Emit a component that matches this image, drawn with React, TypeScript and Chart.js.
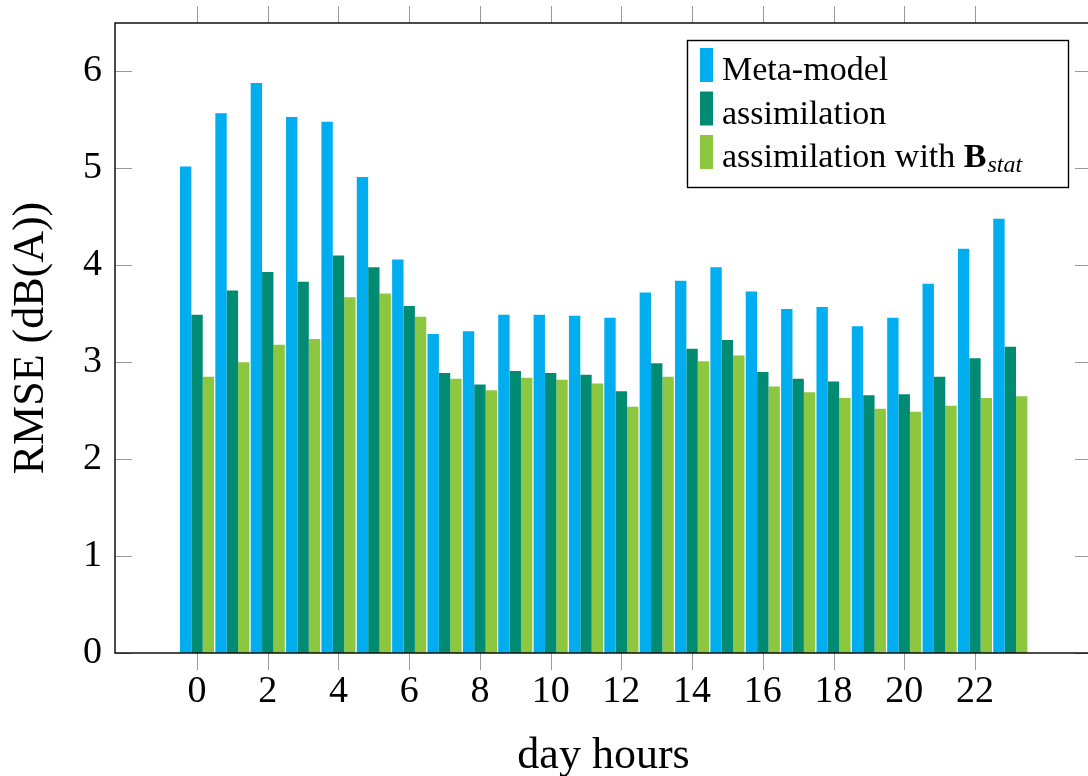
import React, { useEffect, useRef } from "react";
import { Chart, registerables } from "chart.js";

Chart.register(...registerables);

// Hours of the day (x positions of the bar groups)
const hours = [0, 1, 2, 3, 4, 5, 6, 7, 8, 9, 10, 11, 12, 13, 14, 15, 16, 17, 18, 19, 20, 21, 22, 23];

// RMSE per hour, dB(A)
const metaModel = [5.02, 5.57, 5.88, 5.53, 5.48, 4.91, 4.06, 3.29, 3.32, 3.49, 3.49, 3.48, 3.46, 3.72, 3.84, 3.98, 3.73, 3.55, 3.57, 3.37, 3.46, 3.81, 4.17, 4.48];
const assimilation = [3.49, 3.74, 3.93, 3.83, 4.1, 3.98, 3.58, 2.89, 2.77, 2.91, 2.89, 2.87, 2.7, 2.99, 3.14, 3.23, 2.9, 2.83, 2.8, 2.66, 2.67, 2.85, 3.04, 3.16];
const assimilationBstat = [2.85, 3.0, 3.18, 3.24, 3.67, 3.71, 3.47, 2.83, 2.71, 2.84, 2.82, 2.78, 2.54, 2.85, 3.01, 3.07, 2.75, 2.69, 2.63, 2.52, 2.49, 2.55, 2.63, 2.65];

// Axis ticks
const xTicks = [0, 2, 4, 6, 8, 10, 12, 14, 16, 18, 20, 22];
const yTicks = [0, 1, 2, 3, 4, 5, 6];

const seriesLabels = ["Meta-model", "assimilation", "assimilation with Bstat"];
const seriesColors = ["#00AEEF", "#008B72", "#8DC63F"];

// Legend text with math styling for the last entry
type Part = { text: string; style?: "bold" | "sub" };
const legendParts: Part[][] = [
  [{ text: "Meta-model" }],
  [{ text: "assimilation" }],
  [{ text: "assimilation with " }, { text: "B", style: "bold" }, { text: "stat", style: "sub" }],
];

const FONT = '"Liberation Serif", "DejaVu Serif", serif';

const frameAndTicks = {
  id: "frameAndTicks",
  afterDatasetsDraw(chart: any) {
    const { ctx, chartArea } = chart;
    const { left, right, top, bottom } = chartArea;
    const xs = chart.scales.x;
    const ys = chart.scales.y;
    const tl = 17;
    ctx.save();
    ctx.strokeStyle = "#9a9a9a";
    ctx.lineWidth = 1;
    ctx.beginPath();
    xTicks.forEach((v) => {
      const px = Math.round(xs.getPixelForValue(v)) + 0.5;
      ctx.moveTo(px, bottom);
      ctx.lineTo(px, bottom + tl);
      ctx.moveTo(px, top);
      ctx.lineTo(px, top - tl);
    });
    yTicks.forEach((v) => {
      const py = Math.round(ys.getPixelForValue(v)) + 0.5;
      ctx.moveTo(left, py);
      ctx.lineTo(left + tl, py);
      ctx.moveTo(right, py);
      ctx.lineTo(right - tl, py);
    });
    ctx.stroke();
    ctx.strokeStyle = "#000";
    ctx.lineWidth = 1.4;
    ctx.strokeRect(left, top, right - left, bottom - top);
    ctx.restore();
  },
};

const texLegend = {
  id: "texLegend",
  afterDraw(chart: any) {
    const { ctx } = chart;
    const box = { x: 687.5, y: 40.5, w: 381, h: 147 };
    ctx.save();
    ctx.fillStyle = "#fff";
    ctx.fillRect(box.x, box.y, box.w, box.h);
    ctx.strokeStyle = "#000";
    ctx.lineWidth = 1.4;
    ctx.strokeRect(box.x, box.y, box.w, box.h);
    const rowTop = [48, 91.5, 135];
    const baselines = [80, 123.5, 167];
    chart.data.datasets.forEach((ds: any, i: number) => {
      ctx.fillStyle = ds.backgroundColor;
      ctx.fillRect(700, rowTop[i], 13, 34);
      let x = 722;
      ctx.fillStyle = "#000";
      ctx.textBaseline = "alphabetic";
      ctx.textAlign = "left";
      legendParts[i].forEach((p) => {
        let y = baselines[i];
        if (p.style === "bold") ctx.font = `bold 34px ${FONT}`;
        else if (p.style === "sub") {
          ctx.font = `italic 24px ${FONT}`;
          y += 5;
        } else ctx.font = `34px ${FONT}`;
        ctx.fillText(p.text, x, y);
        x += ctx.measureText(p.text).width + (p.style === "bold" ? 1 : 0);
      });
    });
    ctx.restore();
  },
};

export default function App() {
  const canvasRef = useRef<HTMLCanvasElement | null>(null);

  useEffect(() => {
    if (!canvasRef.current) return;
    const series = [metaModel, assimilation, assimilationBstat];
    const chart = new Chart(canvasRef.current, {
      type: "bar",
      data: {
        datasets: series.map((vals, i) => ({
          label: seriesLabels[i],
          data: hours.map((h, j) => ({ x: h, y: vals[j] })),
          backgroundColor: seriesColors[i],
          borderWidth: 0,
          categoryPercentage: 0.965,
          barPercentage: 1.0,
        })),
      },
      options: {
        responsive: false,
        animation: false,
        layout: { padding: { top: 23, right: 8, left: 0, bottom: 0 } },
        plugins: {
          legend: { display: false },
          tooltip: { enabled: false },
        },
        scales: {
          x: {
            type: "linear",
            min: -2.32,
            max: 25.31,
            offset: false,
            grid: { display: false, drawTicks: false },
            border: { display: false },
            afterBuildTicks: (scale: any) => {
              scale.ticks = xTicks.map((value) => ({ value }));
            },
            afterFit: (scale: any) => {
              scale.height = 123;
              scale.paddingLeft = 0;
              scale.paddingRight = 0;
            },
            ticks: {
              padding: 16,
              color: "#000",
              font: { family: FONT, size: 38 },
              maxRotation: 0,
              autoSkip: false,
            },
            title: {
              display: true,
              text: "day hours",
              color: "#000",
              font: { family: FONT, size: 44, lineHeight: 1 },
              padding: { top: 0, bottom: -2 },
            },
          },
          y: {
            min: 0,
            max: 6.5,
            grid: { display: false, drawTicks: false },
            border: { display: false },
            afterBuildTicks: (scale: any) => {
              scale.ticks = yTicks.map((value) => ({ value }));
            },
            afterFit: (scale: any) => {
              scale.width = 115;
              scale.paddingTop = 0;
              scale.paddingBottom = 0;
            },
            ticks: {
              padding: 13,
              color: "#000",
              font: { family: FONT, size: 38 },
            },
            title: {
              display: true,
              text: "RMSE (dB(A))",
              color: "#000",
              font: { family: FONT, size: 44, lineHeight: 1 },
              padding: { top: 9, bottom: 0 },
            },
          },
        },
      },
      plugins: [frameAndTicks, texLegend],
    });
    return () => chart.destroy();
  }, []);

  return (
    <div
      style={{
        position: "absolute",
        left: 0,
        top: 0,
        width: 1088,
        height: 776,
        overflow: "hidden",
        background: "#fff",
      }}
    >
      <canvas ref={canvasRef} width={1100} height={776} style={{ width: 1100, height: 776, display: "block" }} />
    </div>
  );
}
